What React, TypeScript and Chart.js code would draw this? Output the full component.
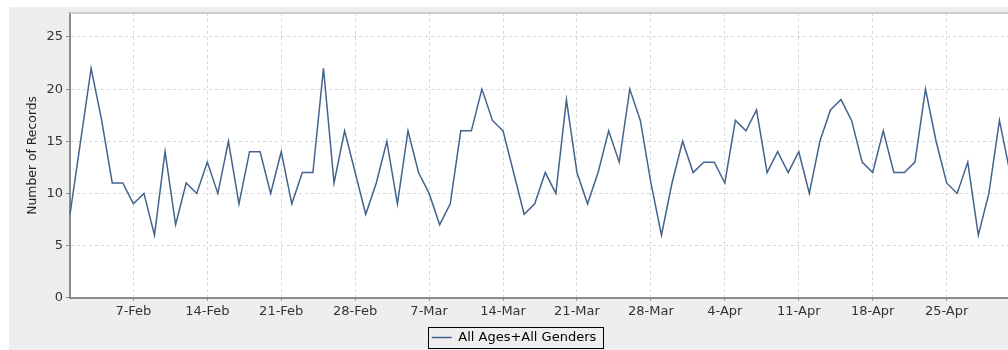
import React, { useEffect, useRef } from 'react';
import { Chart, registerables } from 'chart.js';

Chart.register(...registerables);

// ---- data ----
const months: [string, number][] = [['Feb', 28], ['Mar', 31], ['Apr', 30], ['May', 1]];
const dates: string[] = months.flatMap(([m, n]) => Array.from({ length: n }, (_, i) => `${i + 1}-${m}`));
const records: number[] = [
  8, 15, 22, 17, 11, 11, 9, 10, 6, 14,
  7, 11, 10, 13, 10, 15, 9, 14, 14, 10,
  14, 9, 12, 12, 22, 11, 16, 12, 8, 11,
  15, 9, 16, 12, 10, 7, 9, 16, 16, 20,
  17, 16, 12, 8, 9, 12, 10, 19, 12, 9,
  12, 16, 13, 20, 17, 11, 6, 11, 15, 12,
  13, 13, 11, 17, 16, 18, 12, 14, 12, 14,
  10, 15, 18, 19, 17, 13, 12, 16, 12, 12,
  13, 20, 15, 11, 10, 13, 6, 10, 17, 12,
];
const xTickLabels: string[] = ['7-Feb', '14-Feb', '21-Feb', '28-Feb', '7-Mar', '14-Mar', '21-Mar', '28-Mar', '4-Apr', '11-Apr', '18-Apr', '25-Apr'];
const yTicks: number[] = [0, 5, 10, 15, 20, 25];
const seriesName = 'All Ages+All Genders';
const yTitle = 'Number of Records';

const FONT = { family: '"DejaVu Sans", sans-serif', size: 13 };
const TITLE_FONT = { family: '"DejaVu Sans", sans-serif', size: 12.4 };
const LINE_COLOR = '#43638f';
const TICK_COLOR = '#333333';
const AXIS_COLOR = '#8c8c8c';
const GRID_COLOR = '#d8d8d8';

const framePlugin = {
  id: 'frame',
  beforeDraw(chart: any) {
    const { ctx, chartArea: a, width, height } = chart;
    ctx.save();
    ctx.fillStyle = '#eeeeee';
    ctx.fillRect(0, 0, width, height);
    ctx.fillStyle = '#ffffff';
    ctx.fillRect(a.left, a.top, a.right - a.left, a.bottom - a.top);
    ctx.restore();
  },
  afterDraw(chart: any) {
    const { ctx, chartArea: a } = chart;
    ctx.save();
    ctx.strokeStyle = '#cccccc';
    ctx.lineWidth = 2;
    ctx.beginPath();
    ctx.moveTo(a.left, a.top);
    ctx.lineTo(a.right, a.top);
    ctx.stroke();
    const hb = chart.legend && chart.legend.legendHitBoxes && chart.legend.legendHitBoxes[0];
    if (hb) {
      const cy = hb.top + hb.height / 2;
      ctx.strokeStyle = '#000000';
      ctx.lineWidth = 1;
      ctx.strokeRect(Math.round(hb.left - 4) + 0.5, Math.round(cy - 10.5) + 0.5, Math.round(hb.width + 11), 21);
    }
    ctx.restore();
  },
};

export default function App() {
  const ref = useRef<HTMLCanvasElement>(null);
  useEffect(() => {
    const chart = new Chart(ref.current as HTMLCanvasElement, {
      type: 'line',
      data: {
        labels: dates,
        datasets: [
          {
            label: seriesName,
            data: records,
            borderColor: LINE_COLOR,
            backgroundColor: LINE_COLOR,
            borderWidth: 1.5,
            pointRadius: 0,
            tension: 0,
            fill: false,
          },
        ],
      },
      options: {
        responsive: false,
        animation: false,
        devicePixelRatio: 1,
        layout: { padding: { top: 6, right: 14, left: 9, bottom: 0 } },
        plugins: {
          tooltip: { enabled: false },
          legend: {
            position: 'bottom',
            labels: {
              usePointStyle: true,
              pointStyle: 'line',
              pointStyleWidth: 20,
              padding: 10,
              color: '#000000',
              font: FONT,
            },
          },
        },
        scales: {
          x: {
            type: 'category',
            offset: false,
            afterBuildTicks: (s: any) => {
              s.ticks = s.ticks.filter((t: any) => xTickLabels.includes(dates[t.value]));
            },
            afterFit: (s: any) => {
              s.height = 23.3;
              s.paddingLeft = 0;
              s.paddingRight = 0;
            },
            ticks: {
              autoSkip: false,
              maxRotation: 0,
              color: TICK_COLOR,
              font: FONT,
              padding: 3,
              callback: (v: any) => dates[v as number],
            },
            grid: { offset: false, color: GRID_COLOR, tickLength: 3, tickColor: AXIS_COLOR },
            border: { color: AXIS_COLOR, width: 2, dash: [3, 3] },
          },
          y: {
            min: 0,
            max: 27.3,
            afterBuildTicks: (s: any) => {
              s.ticks = yTicks.map((v) => ({ value: v }));
            },
            afterFit: (s: any) => {
              s.width = 52;
              s.paddingTop = 0;
              s.paddingBottom = 0;
            },
            ticks: { color: TICK_COLOR, font: FONT, padding: 3 },
            grid: { color: GRID_COLOR, tickLength: 4, tickColor: AXIS_COLOR },
            border: { color: AXIS_COLOR, width: 2, dash: [3, 3] },
            title: { display: true, text: yTitle, color: '#222222', font: TITLE_FONT, padding: { top: 7, bottom: 0 } },
          },
        },
      } as any,
      plugins: [framePlugin],
    });
    return () => chart.destroy();
  }, []);
  return (
    <div style={{ position: 'fixed', left: 0, top: 0, width: 1008, height: 350, overflow: 'hidden', background: '#ffffff' }}>
      <canvas
        ref={ref}
        width={1015}
        height={347}
        style={{ position: 'absolute', left: 9, top: 7, width: 1015, height: 347 }}
      />
    </div>
  );
}
